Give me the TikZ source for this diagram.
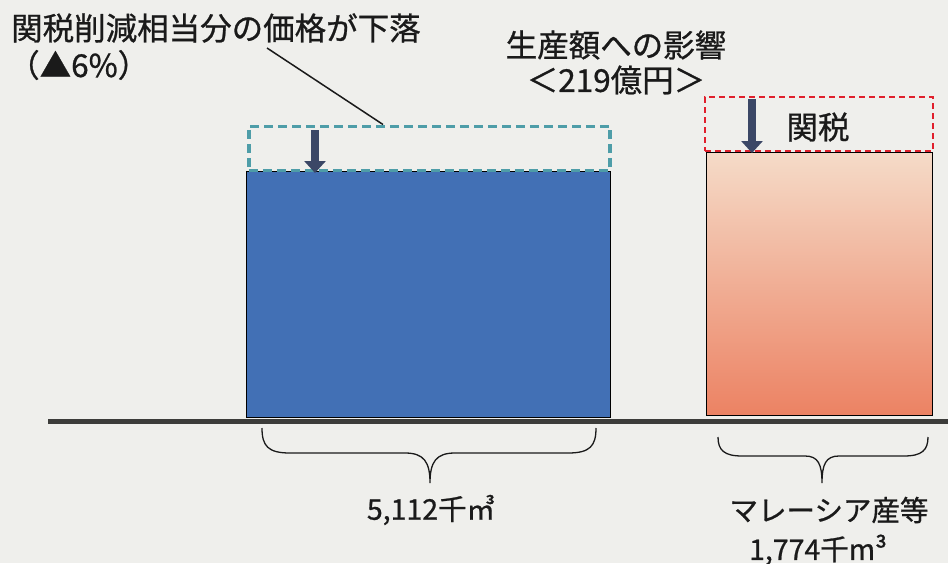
\documentclass[tikz,border=0pt]{standalone}
\usepackage{fontspec}
\setmainfont[FakeBold=0.8]{Noto Sans CJK JP}
\usetikzlibrary{arrows.meta}
\definecolor{bgc}{HTML}{EFEFEC}
\definecolor{barblue}{HTML}{4270B5}
\definecolor{dropteal}{HTML}{4E9DA8}
\definecolor{arrnavy}{HTML}{3B4766}
\definecolor{basegray}{HTML}{3C3C3A}
\definecolor{tarred}{HTML}{E0202C}
\definecolor{peachtop}{HTML}{F5DBC8}
\definecolor{salmonbot}{HTML}{EC8263}
\definecolor{txt}{HTML}{1A1A1A}
\tikzset{
  bigtext/.style={font=\fontsize{31.5}{35}\selectfont, text=txt, inner sep=0pt},
  midtext/.style={font=\fontsize{28.5}{32}\selectfont, text=txt, inner sep=0pt},
  barbox/.style={draw=black, line width=1.2pt, inner sep=0pt, anchor=south west},
  dropbox/.style={draw=dropteal, line width=3.5pt, dash pattern=on 9pt off 5pt, inner sep=0pt, anchor=south west},
  tarbox/.style={draw=tarred, line width=1.6pt, dash pattern=on 6pt off 4pt, inner sep=0pt, anchor=south west},
  downarrow/.style={draw=arrnavy, line width=8pt, -{Triangle[width=21pt,length=12pt]}},
  bracestyle/.style={draw=txt, line width=1.3pt},
}
\begin{document}
\begin{tikzpicture}[x=1pt,y=-1pt]
\fill[bgc] (0,0) rectangle (948,563);
\useasboundingbox (0,0) rectangle (948,563);
% bars
\node[barbox, fill=barblue, minimum width=364pt, minimum height=246pt] (blue) at (246,418) {};
\node[barbox, draw=black, top color=peachtop, bottom color=salmonbot, minimum width=226pt, minimum height=263pt] (orange) at (706,416) {};
% base line
\coordinate (b0) at (48,421);
\coordinate (b1) at (948,421);
\draw[basegray, line width=5pt] (b0) -- (b1);
% dashed boxes
\node[dropbox, minimum width=361pt, minimum height=44pt] (drop) at (247,172) {};
\node[tarbox, minimum width=228pt, minimum height=54pt] (tariff) at (704,152) {};
% arrows
\coordinate (a1s) at (315,130);
\coordinate (a1e) at (315,173);
\draw[downarrow] (a1s) -- (a1e);
\coordinate (a2s) at (752,99);
\coordinate (a2e) at (752,153);
\draw[downarrow] (a2s) -- (a2e);
% texts
\node[bigtext, anchor=west] (t1) at (11,28) {関税削減相当分の価格が下落};
\node[bigtext, anchor=west] (t2) at (8,65) {（▲6\%）};
\node[bigtext] (t3) at (616,45) {生産額への影響};
\node[bigtext] (t4) at (616,80) {＜219億円＞};
\node[bigtext] (t5) at (818,127) {関税};
% leader
\coordinate (l0) at (267,48);
\draw[txt, line width=1.5pt] (l0) -- (drop.north -| 383,0);
% braces
\draw[bracestyle] (262,428) .. controls (262,446) and (268,453) .. (290,453) -- (405,453) .. controls (424,453) and (430,462) .. (430,483)
  .. controls (430,462) and (436,453) .. (455,453) -- (568,453) .. controls (590,453) and (596,446) .. (596,428);
\draw[bracestyle] (718,437) .. controls (718,450) and (724,456) .. (742,456) -- (805,456) .. controls (818,456) and (822,464) .. (822,483)
  .. controls (822,464) and (826,456) .. (839,456) -- (904,456) .. controls (922,456) and (928,450) .. (928,437);
\node[midtext] (v1) at (431,510) {5,112千㎥};
\node[midtext] (v2) at (829,510) {マレーシア産等};
\node[midtext] (v3) at (818,550) {1,774千m³};
\end{tikzpicture}
\end{document}
